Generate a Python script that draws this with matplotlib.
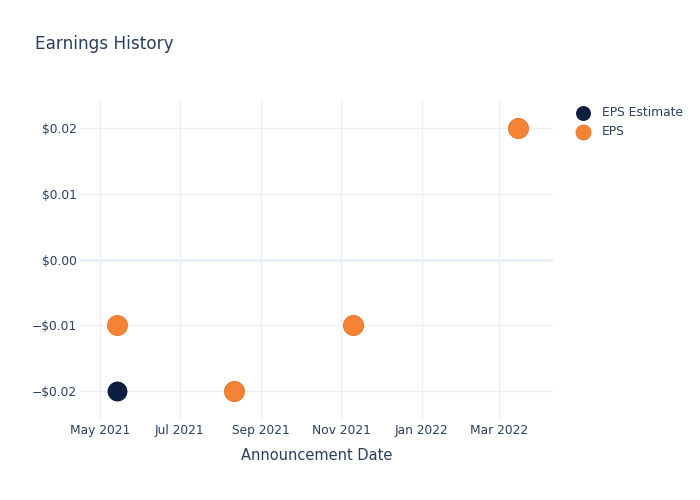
import matplotlib
matplotlib.use("Agg")
from matplotlib import pyplot as plt
import matplotlib.dates as mdates
import numpy as np

dates = np.array(["2021-05-14", "2021-08-11", "2021-11-10", "2022-03-15"], dtype="datetime64[D]")
eps_estimate = [-0.02, -0.02, -0.01, 0.02]
eps_actual = [-0.01, -0.02, -0.01, 0.02]

text_color = "#2a3f5f"
grid_color = "#ebf0f8"

fig = plt.figure(figsize=(7, 5), dpi=100)
ax = fig.add_axes([80 / 700, 80 / 500, 473 / 700, 320 / 500])

ax.scatter(dates, eps_estimate, s=205, color="#0c1f40", linewidths=0,
           zorder=3, label="EPS Estimate")
ax.scatter(dates, eps_actual, s=210, color="#f58235", edgecolors="#e47c34", linewidths=0.6,
           zorder=4, label="EPS")

ax.set_xlim(np.datetime64("2021-04-16"), np.datetime64("2022-04-11"))
ax.set_ylim(-0.02441, 0.02426)

ax.xaxis.set_major_locator(mdates.MonthLocator(bymonth=[1, 3, 5, 7, 9, 11]))
ax.xaxis.set_major_formatter(mdates.DateFormatter("%b %Y"))
ax.set_yticks([-0.02, -0.01, 0.0, 0.01, 0.02])
ax.set_yticklabels(["\u2212$0.02", "\u2212$0.01", "$0.00", "$0.01", "$0.02"])

ax.grid(True, color=grid_color, linewidth=1)
ax.axhline(0, color=grid_color, linewidth=2, zorder=1)
ax.set_axisbelow(True)
for s in ax.spines.values():
    s.set_visible(False)
ax.tick_params(length=0, labelsize=8.8, labelcolor=text_color)
ax.tick_params(axis="x", pad=3)
ax.tick_params(axis="y", pad=2)

ax.set_xlabel("Announcement Date", fontsize=10.5, color=text_color, labelpad=8)
fig.text(35 / 700, 1 - 44 / 500, "Earnings History", fontsize=12.2, color=text_color, va="center")

leg = ax.legend(loc="upper left", bbox_to_anchor=(1.028, 0.995), frameon=False, fontsize=8.8,
                labelcolor=text_color, handletextpad=0.5, borderaxespad=0, markerscale=0.75,
                labelspacing=0.45)

fig.savefig("out.png", dpi=100)
